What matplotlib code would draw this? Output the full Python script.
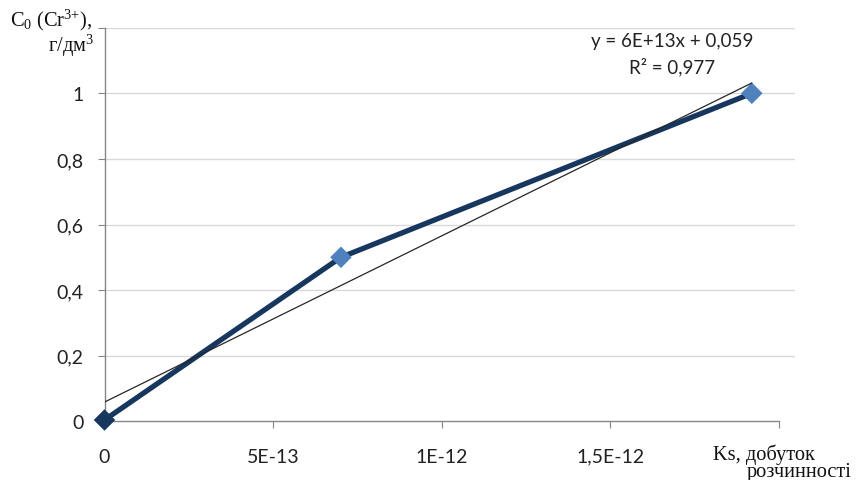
import numpy as np
import matplotlib
matplotlib.use("Agg")
import matplotlib.pyplot as plt

# Solubility product Ks vs initial Cr(3+) concentration
ks_values = [0.0, 0.701e-12, 1.919e-12]
c0_values = [0.004, 0.5, 1.0]
marker_colors = ["#17375E", "#4F81BD", "#4F81BD"]

y_ticks = [0, 0.2, 0.4, 0.6, 0.8, 1.0]
y_tick_labels = ["0", "0,2", "0,4", "0,6", "0,8", "1"]
x_ticks = [0, 5e-13, 1e-12, 1.5e-12, 2e-12]
x_tick_labels = ["0", "5E-13", "1E-12", "1,5E-12", ""]

equation_text = "y = 6E+13x + 0,059"
r2_text = "R² = 0,977"

sans = "Lato"
serif = ["Liberation Serif", "DejaVu Serif"]

fig = plt.figure(figsize=(8.56, 4.81), dpi=100)
ax = fig.add_axes([104.5 / 856, 1 - 422.3 / 481, (795 - 104.5) / 856, (422.3 - 28.7) / 481])

ax.set_xlim(0, 2.047e-12)
ax.set_ylim(0, 1.2)

# grid
for g in np.arange(0.2, 1.21, 0.2):
    ax.axhline(g, color="#D9D9D9", lw=1.0, zorder=0)

for s in ["top", "right"]:
    ax.spines[s].set_visible(False)
for s in ["left", "bottom"]:
    ax.spines[s].set_color("#868686")
    ax.spines[s].set_linewidth(1.0)
ax.spines["bottom"].set_bounds(0, 2e-12)

ax.set_xticks(x_ticks)
ax.set_xticklabels(x_tick_labels)
ax.set_yticks(y_ticks + [1.2])
ax.set_yticklabels(y_tick_labels + [""])
ax.tick_params(axis="both", direction="out", length=5, color="#868686",
               labelsize=14, labelcolor="#222222")
ax.tick_params(axis="x", pad=14)
ax.tick_params(axis="y", pad=10)
for lab in ax.get_xticklabels() + ax.get_yticklabels():
    lab.set_fontfamily(sans)

# data series
ax.plot(ks_values, c0_values, color="#17375E", lw=3.8, zorder=3,
        solid_capstyle="round", clip_on=False)
ax.scatter(ks_values, c0_values, marker="D", s=120, c=marker_colors,
           edgecolors="none", zorder=4, clip_on=False)

# linear trend
slope, intercept = np.polyfit(ks_values, c0_values, 1)
xt = np.array([0, max(ks_values)])
ax.plot(xt, slope * xt + intercept, color="#262626", lw=0.9, zorder=5)

# equation label
ax.text((672 - 104.5) / 690.5, 1 - (42 - 28.7) / 393.6, equation_text,
        transform=ax.transAxes, ha="center", va="center", fontsize=13.5,
        family=sans, color="#222222")
ax.text((672 - 104.5) / 690.5, 1 - (67 - 28.7) / 393.6, r2_text,
        transform=ax.transAxes, ha="center", va="center", fontsize=13.5,
        family=sans, color="#222222")

# axis titles
title_kw = dict(fontsize=14.7, family=serif, color="#111111")
fig.text(10.5 / 856, 1 - 20 / 481, r"C$\mathregular{_0}$ (Cr$\mathregular{^{3{+}}}$),",
         ha="left", va="center", **title_kw)
fig.text(94 / 856, 1 - 46 / 481, r"г/дм$\mathregular{^3}$", ha="right",
         va="center", **title_kw)
fig.text(713 / 856, 1 - 455 / 481, "Ks, добуток", ha="left", va="center",
         **title_kw)
fig.text(747 / 856, 1 - 473 / 481, "розчинності", ha="left", va="center",
         **title_kw)

fig.savefig("out.png", dpi=100)
